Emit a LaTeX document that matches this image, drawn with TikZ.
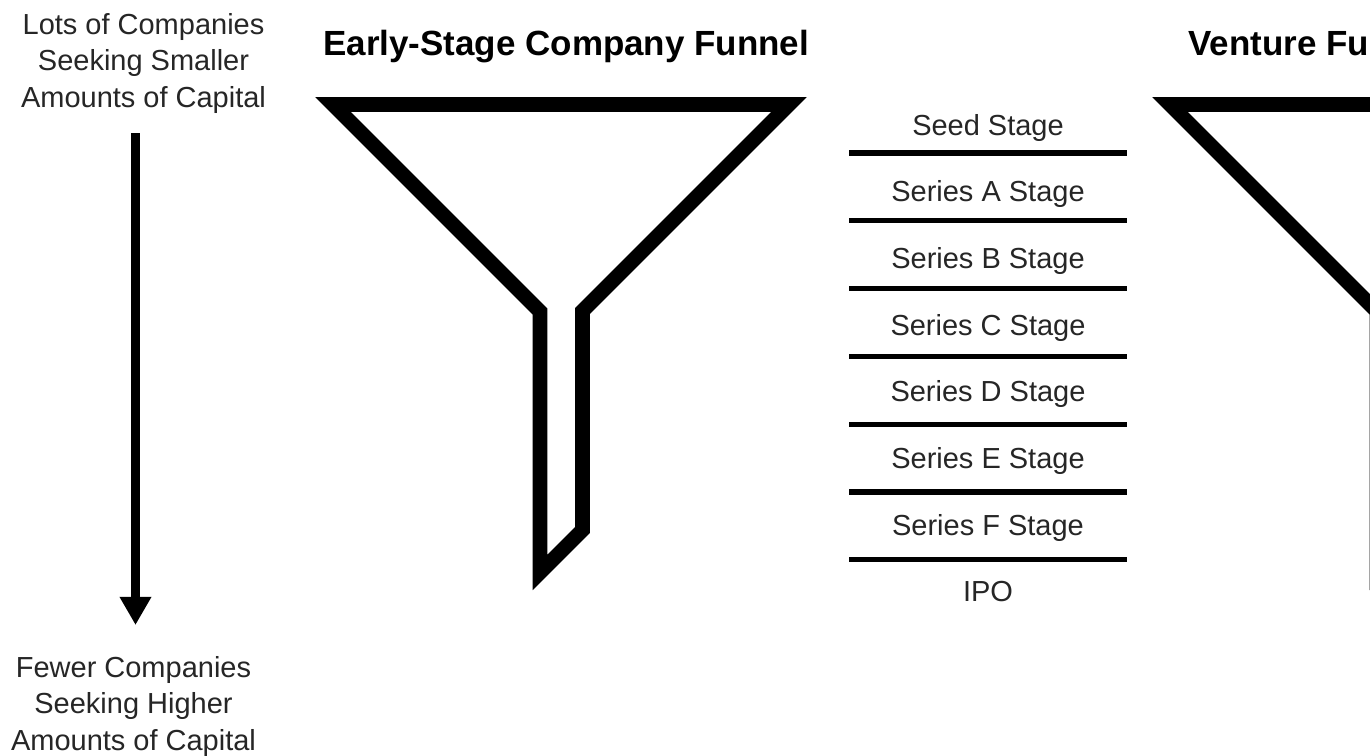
\documentclass[tikz,border=0pt]{standalone}
\usepackage{fontspec}
\setmainfont{Liberation Sans}
\usepackage{tikz}
\usetikzlibrary{arrows.meta}
\definecolor{txtgray}{RGB}{38, 38, 38}

\tikzset{
  funnelline/.style={line width=8.3pt, line join=miter},
  stageline/.style={line width=3pt},
  stagelabel/.style={font=\fontsize{16.5}{20}\selectfont, text=txtgray, anchor=base, inner sep=0pt},
  funneltitle/.style={font=\fontsize{19.9}{24}\selectfont\bfseries, anchor=base west, inner sep=0pt},
  sidetext/.style={font=\fontsize{16.5}{20.5}\selectfont, text=txtgray, align=center, anchor=base, inner sep=0pt},
}

\begin{document}
\begin{tikzpicture}[x=0.02cm, y=-0.02cm]
\clip (0,0) rectangle (1370,755);
\fill[white] (0,0) rectangle (1370,755);

% side labels and arrow (base = last line)
\node[sidetext] (manytop) at (143.5,107) {Lots of Companies\\Seeking Smaller\\Amounts of Capital};
\node[sidetext] (fewbot) at (133.5,750) {Fewer Companies\\Seeking Higher\\Amounts of Capital};
\coordinate (arrtop) at (135.5,133);
\coordinate (arrbot) at (135.5,625);
\draw[line width=5pt, -{Triangle[width=17pt,length=16pt]}] (arrtop) -- (arrbot);

% titles
\node[funneltitle] (ttlearly) at (323,55) {Early-Stage Company Funnel};
\node[funneltitle] (ttlventure) at (1188,55) {Venture Funnel};

% funnels (second one runs off the right edge)
\foreach \sx in {0,837} {
  \draw[funnelline, shift={(\sx,0)}] (333,104.5) -- (789,104.5) -- (582.5,311) -- (582.5,530)
    -- (540,572.5) -- (540,311.5) -- cycle;
}

% stages
\foreach \nm [count=\i from 0] in {Seed Stage, Series A Stage, Series B Stage, Series C Stage,
    Series D Stage, Series E Stage, Series F Stage, IPO} {
  \node[stagelabel] (stage\i) at (988, 135+66.7*\i) {\nm};
}
\foreach \i in {0,...,6}
  \draw[stageline] (849, 153+67.8*\i) -- (1127, 153+67.8*\i);
\end{tikzpicture}
\end{document}
